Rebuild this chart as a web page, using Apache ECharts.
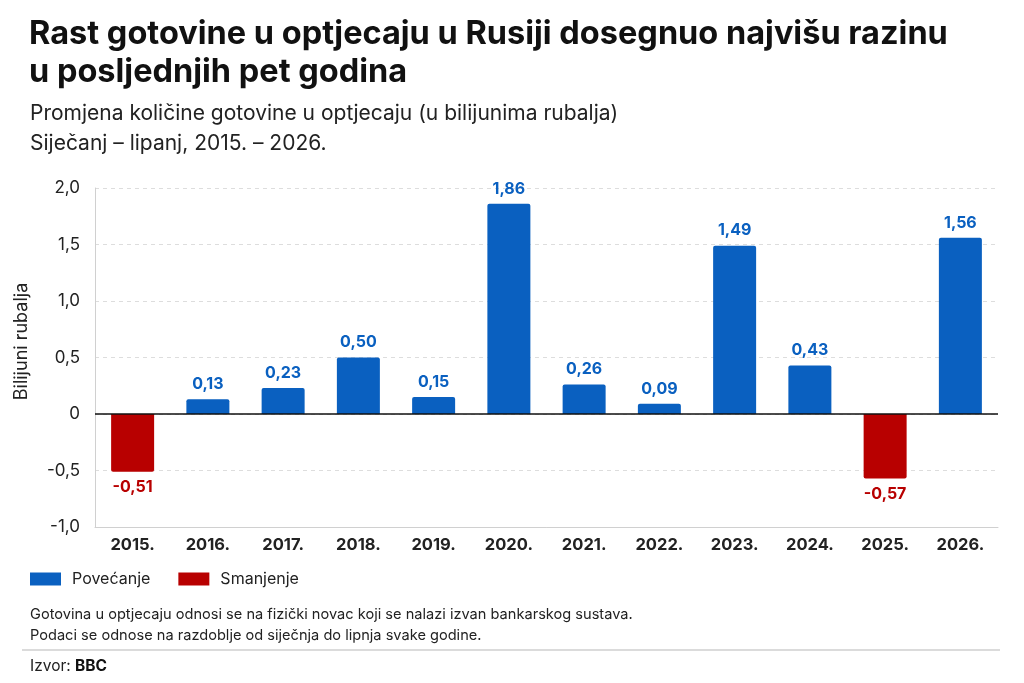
<!DOCTYPE html>
<html>
<head>
<meta charset="utf-8">
<script src="https://cdn.jsdelivr.net/npm/echarts@6/dist/echarts.min.js"></script>
<style>
html,body{margin:0;padding:0;background:#fff;}
#chart{width:1024px;height:683px;}
</style>
</head>
<body>
<div id="chart"></div>
<script>
const categories = ['2015.', '2016.', '2017.', '2018.', '2019.', '2020.', '2021.', '2022.', '2023.', '2024.', '2025.', '2026.'];
const values = [-0.51, 0.13, 0.23, 0.50, 0.15, 1.86, 0.26, 0.09, 1.49, 0.43, -0.57, 1.56];
const yTicks = [-1.0, -0.5, 0, 0.5, 1.0, 1.5, 2.0];
const seriesNames = ['Povećanje', 'Smanjenje'];

const increases = values.map(v => v >= 0 ? v : '-');
const decreases = values.map(v => v < 0 ? v : '-');

const BLUE = '#0a60c0';
const RED = '#b80000';
const FONT = 'Inter, "Noto Sans", sans-serif';

function fmtVal(v) { return v.toFixed(2).replace('.', ','); }
function fmtTick(v) { return v === 0 ? '0' : v.toFixed(1).replace('.', ','); }

const chart = echarts.init(document.getElementById('chart'), null, {renderer: 'canvas'});
chart.setOption({
  backgroundColor: '#fff',
  animation: false,
  textStyle: {fontFamily: FONT},
  title: [
    {
      text: 'Rast gotovine u optjecaju u Rusiji dosegnuo najvišu razinu\nu posljednjih pet godina',
      left: 29, top: 15, padding: 0,
      textStyle: {fontFamily: FONT, fontSize: 32.5, fontWeight: 'bold', color: '#111', lineHeight: 38}
    },
    {
      text: 'Promjena količine gotovine u optjecaju (u bilijunima rubalja)\nSiječanj – lipanj, 2015. – 2026.',
      left: 30, top: 99, padding: 0,
      textStyle: {fontFamily: FONT, fontSize: 21, fontWeight: 'normal', color: '#222', lineHeight: 30}
    }
  ],
  legend: {
    data: seriesNames,
    left: 30, top: 571, padding: 0,
    icon: 'rect',
    itemWidth: 31, itemHeight: 13,
    itemGap: 28,
    textStyle: {fontFamily: FONT, fontSize: 16, color: '#222', padding: [0, 0, 0, 6]}
  },
  grid: {left: 95, right: 26, top: 188, bottom: 156, containLabel: false},
  xAxis: {
    type: 'category',
    data: categories,
    axisLine: {onZero: false, lineStyle: {color: '#d0d0d0', width: 1}},
    axisTick: {show: false},
    axisLabel: {fontFamily: FONT, fontSize: 16.5, fontWeight: 'bold', color: '#222', margin: 10}
  },
  yAxis: {
    type: 'value',
    min: yTicks[0], max: yTicks[yTicks.length - 1], interval: 0.5,
    name: 'Bilijuni rubalja',
    nameLocation: 'middle',
    nameRotate: 90,
    nameGap: 64,
    nameTextStyle: {fontFamily: FONT, fontSize: 18, color: '#222', padding: [0, 0, 0, 32]},
    axisLine: {show: true, lineStyle: {color: '#d0d0d0'}},
    axisTick: {show: false},
    axisLabel: {fontFamily: FONT, fontSize: 17, color: '#222', margin: 15, formatter: fmtTick},
    splitLine: {show: true, lineStyle: {color: '#dddddd', type: [4, 4]}}
  },
  series: [
    {
      name: seriesNames[0],
      type: 'bar',
      stack: 'total',
      data: increases,
      barWidth: 43,
      itemStyle: {color: BLUE, borderRadius: [2, 2, 0, 0]},
      label: {
        show: true, position: 'top', distance: 7,
        fontFamily: FONT, fontSize: 16, fontWeight: 'bold', color: BLUE,
        formatter: p => fmtVal(p.value)
      },
      markLine: {
        silent: true,
        symbol: 'none',
        label: {show: false},
        lineStyle: {color: '#111', width: 1.5, type: 'solid'},
        data: [{yAxis: 0}]
      }
    },
    {
      name: seriesNames[1],
      type: 'bar',
      stack: 'total',
      data: decreases,
      barWidth: 43,
      itemStyle: {color: RED, borderRadius: [0, 0, 2, 2]},
      label: {
        show: true, position: 'bottom', distance: 8,
        fontFamily: FONT, fontSize: 16, fontWeight: 'bold', color: RED,
        formatter: p => fmtVal(p.value)
      }
    }
  ],
  graphic: [
    {
      type: 'text', left: 30, top: 604,
      style: {
        text: 'Gotovina u optjecaju odnosi se na fizički novac koji se nalazi izvan bankarskog sustava.\nPodaci se odnose na razdoblje od siječnja do lipnja svake godine.',
        font: '14.6px ' + FONT, fill: '#222', lineHeight: 21
      }
    },
    {
      type: 'line',
      shape: {x1: 22, y1: 650, x2: 1000, y2: 650},
      style: {stroke: '#cfcfcf', lineWidth: 1.5}
    },
    {
      type: 'text', left: 30, top: 658,
      style: {
        text: '{a|Izvor: }{b|BBC}',
        rich: {
          a: {font: '15.5px ' + FONT, fill: '#222'},
          b: {font: 'bold 15.5px ' + FONT, fill: '#111'}
        }
      }
    }
  ]
});
</script>
</body>
</html>
